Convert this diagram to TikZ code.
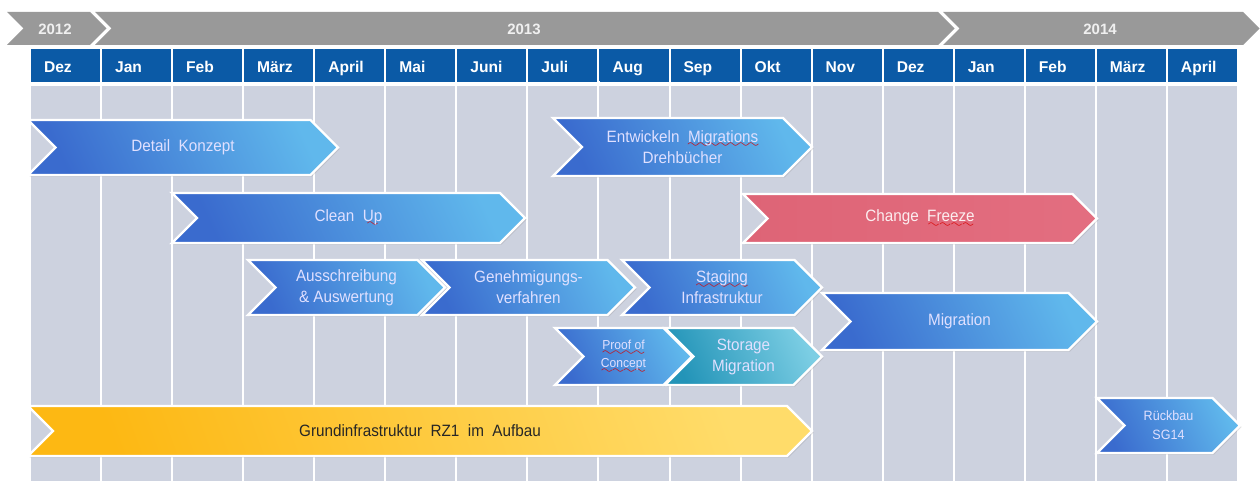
\documentclass[tikz,border=0pt]{standalone}
\usepackage{fontspec}
\setmainfont{Liberation Sans}
\newfontfamily\barfont[FakeStretch=0.93]{Liberation Sans}
\usetikzlibrary{shadows}
\usepackage{xcolor}

\definecolor{bannergrey}{HTML}{999999}
\definecolor{monthblue}{HTML}{0B5AA6}
\definecolor{gridgrey}{HTML}{CDD2DF}
\definecolor{blueL}{HTML}{3A6BCE}
\definecolor{blueR}{HTML}{60B8EC}
\definecolor{pinkL}{HTML}{DE6476}
\definecolor{pinkR}{HTML}{E36E80}
\definecolor{tealL}{HTML}{2394B8}
\definecolor{tealR}{HTML}{7CCEE4}
\definecolor{yellowL}{HTML}{FDB813}
\definecolor{yellowR}{HTML}{FFDC6A}

% red wavy spell-check underline
\font\wavyfont=lasy6
\newcommand\spellerr[1]{\setbox0\hbox{#1}\leavevmode
	\rlap{\textcolor{red!85!black}{\lower2.8pt\hbox to\wd0{\xleaders\hbox{\wavyfont\char58}\hfil}}}\box0}

\begin{document}
\begin{tikzpicture}[x=0.5pt,y=-0.5pt]
		\newcommand\colw{71.06}
		\newcommand\colx{30}
		\tikzset{
		yearband/.style={fill=bannergrey},
		yeartext/.style={text=white!94!black, font=\fontsize{7.5}{9}\selectfont\bfseries},
		monthcell/.style={fill=monthblue, text=white, font=\fontsize{7.8}{9}\selectfont\bfseries,
			text width=21.5pt, align=left, inner xsep=6.5pt, inner ysep=0pt,
			minimum height=16pt, text height=5.8pt, text depth=0pt},
		barbase/.style={draw=white, line width=1.2pt, line join=miter,
			drop shadow={shadow xshift=0.8pt, shadow yshift=-0.8pt, opacity=0.22}},
		bluebar/.style={barbase, left color=blueL, right color=blueR, shading angle=115},
		pinkbar/.style={barbase, left color=pinkL, right color=pinkR},
		tealbar/.style={barbase, left color=tealL, right color=tealR, shading angle=115},
		yellowbar/.style={barbase, left color=yellowL, right color=yellowR, shading angle=110},
		bartext/.style={text=white!88!blue, align=center, inner sep=0pt,
			font=\barfont\fontsize{8.2}{10.5}\selectfont},
		}
		% chevron bar: name, style, left, top, bottom, tip, text
		\newcommand\phasebar[8][]{%
			\pgfmathsetmacro\phh{(#6-#5)/2}
			\pgfmathsetmacro\pym{(#5+#6)/2}
			\path[#3] (#4,#5) -- ({#7-\phh},#5) -- (#7,\pym) -- ({#7-\phh},#6) -- (#4,#6) -- ({#4+\phh},\pym) -- cycle;
			\node[bartext,#1] (#2) at ({(#4+#7)/2},\pym) {#8};
		}
		\useasboundingbox (0,0) rectangle (1260,481);

		% year banner
		\path[yearband] (7,12) -- (90,12) -- (106.5,28.5) -- (90,45) -- (7,45) -- (23.5,28.5) -- cycle;
		\path[yearband] (95,12) -- (938,12) -- (954.5,28.5) -- (938,45) -- (95,45) -- (111.5,28.5) -- cycle;
		\path[yearband] (943,12) -- (1243,12) -- (1259.5,28.5) -- (1243,45) -- (943,45) -- (959.5,28.5) -- cycle;
		\node[yeartext] (y2012) at (55,29) {2012};
		\node[yeartext] (y2013) at (524,29) {2013};
		\node[yeartext] (y2014) at (1100,29) {2014};

		% month header and grid columns
		\foreach \m [count=\i from 0] in {Dez,Jan,Feb,März,April,Mai,Juni,Juli,Aug,Sep,Okt,Nov,Dez,Jan,Feb,März,April} {
			\fill[gridgrey] ({\colx+\i*\colw+1},86) rectangle ({\colx+(\i+1)*\colw-1},481);
			\fill[monthblue] ({\colx+\i*\colw+1},49) rectangle ({\colx+(\i+1)*\colw-1},81);
			\node[monthcell] (m\i) at ({\colx+(\i+0.5)*\colw},66.5) {\m};
		}

		% phases
		\phasebar{detail}{bluebar}{28}{120}{175}{338}{Detail\ \ Konzept}
		\phasebar{dreh}{bluebar}{553}{118}{176}{812}{Entwickeln\ \ \spellerr{Migrations}\\Drehbücher}
		\phasebar{clean}{bluebar}{172}{193}{243}{525}{Clean\ \ \spellerr{Up}}
		\phasebar[text=pinkR!12!white]{freeze}{pinkbar}{743}{194}{243}{1097}{Change\ \ \spellerr{Freeze}}
		\phasebar{ausschr}{bluebar}{248}{260}{315}{445}{Ausschreibung\\\&\ Auswertung}
		\phasebar{genehm}{bluebar}{422}{260}{315}{635}{Genehmigungs-\\verfahren}
		\phasebar{staging}{bluebar}{622}{260}{315}{822}{\spellerr{Staging}\\Infrastruktur}
		\phasebar[font=\barfont\fontsize{6.5}{9}\selectfont]{proof}{bluebar}{555}{328}{385}{692}{\spellerr{Proof of}\\\spellerr{Concept}}
		\phasebar{storage}{tealbar}{665}{328}{385}{822}{Storage\\Migration}
		\phasebar{migr}{bluebar}{822}{293}{350}{1097}{Migration}
		\phasebar[font=\barfont\fontsize{6.75}{9.5}\selectfont]{rueck}{bluebar}{1097}{398}{453}{1240}{Rückbau\\SG14}
		\phasebar[text=black!85]{grund}{yellowbar}{28}{406}{456}{812}{Grundinfrastruktur\ \ RZ1\ \ im\ \ Aufbau}
\end{tikzpicture}
\end{document}
